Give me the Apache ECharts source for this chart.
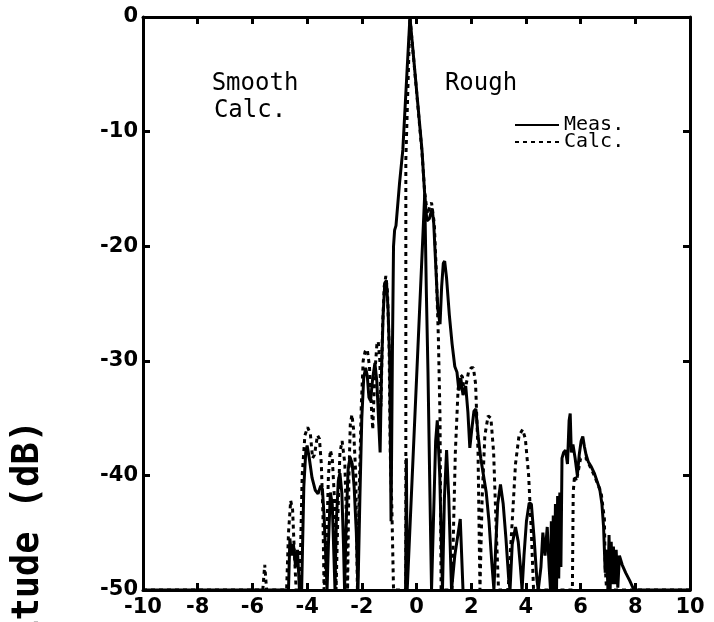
<!DOCTYPE html>
<html>
<head>
<meta charset="utf-8">
<script src="https://cdn.jsdelivr.net/npm/echarts@6/dist/echarts.min.js"></script>
<style>
  html, body { margin: 0; padding: 0; background: #fff; }
  #chart { width: 714px; height: 622px; }
</style>
</head>
<body>
<div id="chart"></div>
<script>
// angle ticks (x) and level ticks (dB)
const xTicks = [-10, -8, -6, -4, -2, 0, 2, 4, 6, 8, 10]
const yTicks = [0, -10, -20, -30, -40, -50]

// Rough surface, measured pattern (solid)
const meas = [
  [-10, -50],
  [-4.68, -50], [-4.63, -45.5], [-4.57, -47], [-4.5, -46], [-4.42, -48], [-4.35, -46.5], [-4.28, -50],
  [-4.2, -50], [-4.12, -41], [-4.05, -38], [-4.0, -37.4], [-3.92, -38.5], [-3.82, -40.2], [-3.7, -41.3],
  [-3.6, -41.6], [-3.5, -40.9], [-3.44, -41.2], [-3.38, -43.5], [-3.31, -47.5], [-3.27, -50],
  [-3.22, -46], [-3.15, -41.5], [-3.08, -42.5], [-3.02, -47], [-2.98, -50],
  [-2.93, -44], [-2.86, -40.5], [-2.8, -39.8], [-2.73, -41.5], [-2.67, -46], [-2.63, -50],
  [-2.57, -44], [-2.5, -39.5], [-2.43, -38.4], [-2.35, -39], [-2.28, -41], [-2.2, -45], [-2.14, -50],
  [-2.07, -42], [-2.0, -35], [-1.93, -31.5], [-1.86, -30.6], [-1.8, -31.3], [-1.74, -33.2], [-1.68, -33.5],
  [-1.6, -31.5], [-1.52, -30.2], [-1.45, -31.8], [-1.38, -35.5], [-1.33, -38],
  [-1.28, -31], [-1.22, -26], [-1.16, -23.2], [-1.1, -23], [-1.04, -25.5], [-0.98, -30], [-0.93, -44],
  [-0.88, -29], [-0.84, -20], [-0.8, -18.6], [-0.75, -18.2], [-0.62, -14.5], [-0.5, -11.6],
  [-0.24, 0], [0.2, -11.6], [0.3, -15.5], [0.38, -17.8], [0.47, -17.6], [0.57, -16.7],
  [0.63, -18], [0.7, -21.5], [0.78, -25.5],
  [0.86, -26.8], [0.92, -23.5], [0.98, -21.5], [1.03, -21.3], [1.1, -22.8], [1.2, -26], [1.3, -28.5],
  [1.4, -30.5], [1.48, -31], [1.55, -32.6], [1.62, -31.5], [1.7, -33], [1.8, -32.2], [1.88, -34.5],
  [1.95, -37.6], [2.02, -36], [2.1, -34.4], [2.17, -34.2], [2.25, -36.5], [2.35, -38.5], [2.45, -40],
  [2.55, -41.5], [2.65, -44], [2.75, -47.5], [2.83, -50],
  [2.9, -46], [2.97, -42.5], [3.07, -40.8], [3.17, -42.5], [3.27, -45.5], [3.37, -49], [3.42, -50],
  [3.5, -46], [3.62, -44.5], [3.72, -45.8], [3.8, -48], [3.86, -50],
  [3.93, -47], [4.02, -44], [4.12, -42.4], [4.2, -42.5], [4.3, -45.5], [4.4, -49], [4.45, -50],
  [4.55, -48], [4.62, -45], [4.7, -47], [4.78, -44.5], [4.85, -48], [4.9, -50], [4.93, -44], [4.97, -50],
  [5.0, -43.5], [5.04, -50], [5.08, -42.5], [5.12, -50], [5.16, -41.8], [5.2, -49], [5.24, -41.5],
  [5.28, -48], [5.32, -38.5], [5.38, -38], [5.45, -37.8], [5.52, -39], [5.58, -35.2], [5.62, -34.6],
  [5.66, -38], [5.72, -37.3], [5.8, -38.5], [5.88, -40], [5.95, -38.2], [6.02, -37], [6.08, -36.6],
  [6.14, -37.5], [6.2, -38.2], [6.28, -38.8], [6.38, -39.2], [6.5, -39.8], [6.6, -40.5], [6.7, -41.2],
  [6.78, -42.5], [6.84, -44.5], [6.9, -48.5], [6.95, -46.5], [7.0, -50], [7.04, -45.2], [7.08, -50],
  [7.12, -45.8], [7.16, -49.5], [7.2, -46.2], [7.25, -49.5], [7.3, -46.5], [7.36, -49.8], [7.42, -47],
  [7.52, -47.8], [7.65, -48.5], [7.8, -49.2], [7.95, -50], [10, -50]
]

// lower measured trace under the main lobe
const measLow = [
  [-0.4, -50], [-0.37, -38.5], [-0.34, -50],
  [0.3, -15.5], [0.36, -24], [0.42, -31], [0.48, -40], [0.55, -50],
  [0.62, -50], [0.7, -37], [0.76, -35.2], [0.85, -40], [0.95, -50],
  [1.02, -42], [1.1, -37.8], [1.18, -42], [1.28, -50], [1.4, -47], [1.6, -43.8], [1.7, -50]
]

// Rough surface, calculated pattern (dashed)
const calc = [
  [-10, -50], [-5.62, -50], [-5.55, -47.8], [-5.48, -50],
  [-4.75, -50], [-4.68, -45], [-4.6, -42.2], [-4.53, -43], [-4.47, -46.5], [-4.4, -50],
  [-4.27, -50], [-4.18, -40], [-4.08, -36.5], [-3.98, -35.8], [-3.88, -36.4], [-3.8, -38.5], [-3.73, -38.2],
  [-3.62, -36.5], [-3.55, -36.8], [-3.48, -39], [-3.42, -43.5], [-3.38, -50],
  [-3.3, -47], [-3.22, -40], [-3.15, -37.8], [-3.08, -38.5], [-3.0, -42], [-2.94, -50],
  [-2.88, -44], [-2.8, -38], [-2.72, -37], [-2.62, -39], [-2.56, -44], [-2.52, -50],
  [-2.47, -40], [-2.42, -35.5], [-2.36, -34.7], [-2.3, -36], [-2.22, -40], [-2.16, -50],
  [-2.1, -42], [-2.02, -34], [-1.95, -30], [-1.88, -29.2], [-1.8, -29], [-1.72, -30.5], [-1.65, -34],
  [-1.6, -36], [-1.52, -31], [-1.45, -28.6], [-1.4, -28.3], [-1.34, -30], [-1.3, -34],
  [-1.24, -27], [-1.18, -23.5], [-1.12, -22.6], [-1.06, -24], [-1.0, -29], [-0.96, -38], [-0.9, -43],
  [-0.84, -50], [-0.39, -50], [-0.39, -12.5], [-0.24, 0], [0.2, -11.8], [0.3, -15.3],
  [0.4, -17.2], [0.48, -16.6], [0.55, -16.2], [0.65, -18], [0.72, -22],
  [0.8, -28], [0.86, -35], [0.9, -50],
  [1.3, -50], [1.42, -38], [1.52, -32.5], [1.6, -31.2], [1.68, -31.4], [1.75, -33], [1.82, -32],
  [1.9, -31], [2.0, -30.6], [2.08, -30.6], [2.16, -32], [2.25, -38], [2.32, -50],
  [2.4, -42], [2.5, -36.5], [2.62, -34.8], [2.72, -35], [2.82, -38], [2.92, -45], [3.0, -50],
  [3.35, -50], [3.5, -44], [3.62, -39], [3.75, -36.5], [3.88, -36], [3.98, -36.8], [4.1, -40],
  [4.2, -45], [4.28, -50],
  [5.7, -50], [5.73, -41.5], [5.78, -40], [5.85, -40.5], [6.0, -38.5], [6.2, -38.5], [6.5, -40],
  [6.75, -41.5], [6.87, -43.8], [6.9, -48], [6.95, -50], [10, -50]
]

const chart = echarts.init(document.getElementById('chart'))

const tickFont = { color: '#000', fontFamily: 'DejaVu Sans', fontWeight: 'bold', fontSize: 21 }
const axisLine = { show: true, onZero: false, lineStyle: { color: '#000', width: 3 } }
const axisTick = { show: true, inside: true, length: 7, lineStyle: { color: '#000', width: 3 } }

chart.setOption({
  animation: false,
  backgroundColor: '#fff',
  grid: { left: 143, right: 24, top: 17, bottom: 32 },
  xAxis: [
    {
      type: 'value', min: -10, max: 10, interval: 2, position: 'bottom',
      axisLine, axisTick, splitLine: { show: false },
      axisLabel: { ...tickFont, margin: 7 }
    },
    {
      type: 'value', min: -10, max: 10, interval: 2, position: 'top',
      axisLine, axisTick, splitLine: { show: false }, axisLabel: { show: false }
    }
  ],
  yAxis: [
    {
      type: 'value', min: -50, max: 0, interval: 10, position: 'left',
      axisLine, axisTick, splitLine: { show: false },
      axisLabel: { ...tickFont, margin: 5 }
    },
    {
      type: 'value', min: -50, max: 0, interval: 10, position: 'right',
      axisLine, axisTick, splitLine: { show: false }, axisLabel: { show: false }
    }
  ],
  legend: {
    orient: 'vertical', left: 509, top: 110, itemWidth: 44, itemHeight: 10, itemGap: -3,
    data: ['Meas.', 'Calc.'],
    itemStyle: { color: 'rgba(0,0,0,0)', borderWidth: 0 },
    textStyle: { color: '#000', fontFamily: 'DejaVu Sans Mono', fontSize: 20 }
  },
  graphic: [
    { type: 'text', x: 255, y: 84, style: { text: 'Smooth', font: '24px "DejaVu Sans Mono"', fill: '#000', align: 'center', verticalAlign: 'middle' } },
    { type: 'text', x: 250, y: 111, style: { text: 'Calc.', font: '24px "DejaVu Sans Mono"', fill: '#000', align: 'center', verticalAlign: 'middle' } },
    { type: 'text', x: 481, y: 84, style: { text: 'Rough', font: '24px "DejaVu Sans Mono"', fill: '#000', align: 'center', verticalAlign: 'middle' } },
    { type: 'text', x: 28, y: 420, rotation: Math.PI / 2, style: { text: 'Amplitude (dB)', font: 'bold 37px "DejaVu Sans Mono"', fill: '#000', align: 'right', verticalAlign: 'middle' } }
  ],
  series: [
    {
      name: 'Meas.', type: 'line', data: meas, showSymbol: false, symbol: 'none',
      lineStyle: { color: '#000', width: 3 }, itemStyle: { color: '#000' }, z: 3
    },
    {
      name: 'Meas. lower', type: 'line', data: measLow, showSymbol: false, symbol: 'none',
      lineStyle: { color: '#000', width: 3 }, itemStyle: { color: '#000' }, z: 3
    },
    {
      name: 'Calc.', type: 'line', data: calc, showSymbol: false, symbol: 'none',
      lineStyle: { color: '#000', width: 3, type: [4, 4] }, itemStyle: { color: '#000' }, z: 4
    }
  ]
})
</script>
</body>
</html>
